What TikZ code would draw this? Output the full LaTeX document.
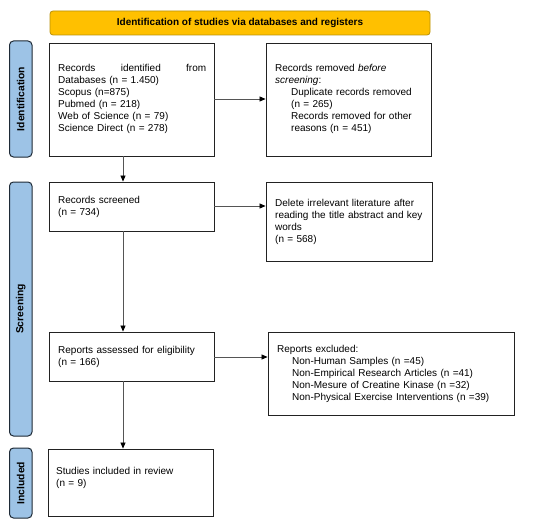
\documentclass[tikz,border=0pt]{standalone}
\usepackage{fontspec}
\setmainfont{Liberation Sans}
\usetikzlibrary{arrows.meta}
\definecolor{titlefill}{HTML}{FFC000}
\definecolor{titledraw}{HTML}{B8900A}
\definecolor{sidefill}{HTML}{9DC3E6}
\definecolor{sidedraw}{HTML}{1E2A36}
\definecolor{boxdraw}{HTML}{222222}
\definecolor{arrowcol}{HTML}{555555}
\begin{document}
\begin{tikzpicture}[x=1pt,y=-1pt,
  every node/.style={font=\fontsize{10}{12}\selectfont},
  titlebox/.style={draw=titledraw,fill=titlefill,rounded corners=3pt,line width=0.8pt,font=\bfseries\fontsize{10}{12}\selectfont},
  sidebox/.style={draw=sidedraw,fill=sidefill,rounded corners=4pt,line width=1pt},
  sidetext/.style={rotate=90,font=\bfseries\fontsize{10.3}{12}\selectfont},
  flowbox/.style={draw=boxdraw,line width=0.9pt},
  boxtext/.style={anchor=west,align=left,inner sep=0pt},
  flowarrow/.style={draw=arrowcol,line width=0.7pt,-{Triangle[length=6pt,width=5pt,color=black]}}
]
\useasboundingbox (0,0) rectangle (546,532);
% title
\node[titlebox,minimum width=380pt,minimum height=24pt,inner sep=0pt] (title) at (240,23) {Identification of studies via databases and registers};
% side labels
\node[sidebox,minimum width=22.5pt,minimum height=116pt,inner sep=0pt] (sideid) at (20.75,99) {};
\node[sidetext] (sideidt) at (sideid.center) {Identification};
\node[sidebox,minimum width=22.5pt,minimum height=254pt,inner sep=0pt] (sidesc) at (20.75,309) {};
\node[sidetext] (sidesct) at (sidesc.center) {Screening};
\node[sidebox,minimum width=22.5pt,minimum height=70pt,inner sep=0pt] (sidein) at (20.75,483) {};
\node[sidetext] (sideint) at (sidein.center) {Included};
% boxes
\node[flowbox,minimum width=165pt,minimum height=113pt,inner sep=0pt] (b1) at (131.5,99.5) {};
\node[boxtext,text width=148pt] (b1t) at (58,99) {Records\hfill identified\hfill from\\Databases (n = 1.450)\\Scopus (n=875)\\Pubmed (n = 218)\\Web of Science (n = 79)\\Science Direct (n = 278)};
\node[flowbox,minimum width=165pt,minimum height=113pt,inner sep=0pt] (b2) at (348.5,99.5) {};
\node[boxtext,text width=152pt] (b2t) at (275,99) {Records removed \textit{before}\\\textit{screening}:\\\hspace*{16pt}Duplicate records removed\\\hspace*{16pt}(n = 265)\\\hspace*{16pt}Records removed for other\\\hspace*{16pt}reasons (n = 451)};
\node[flowbox,minimum width=165pt,minimum height=49pt,inner sep=0pt] (b3) at (131.5,206.5) {};
\node[boxtext,text width=148pt] (b3t) at (58,207) {Records screened\\(n = 734)};
\node[flowbox,minimum width=166pt,minimum height=79pt,inner sep=0pt] (b4) at (349,221.5) {};
\node[boxtext,text width=152pt] (b4t) at (275,222) {Delete irrelevant literature after\\reading the title abstract and key\\words\\(n = 568)};
\node[flowbox,minimum width=246pt,minimum height=83pt,inner sep=0pt] (b6) at (391,373.5) {};
\node[boxtext,text width=232pt] (b6t) at (277,374) {Reports excluded:\\\hspace*{15pt}Non-Human Samples (n =45)\\\hspace*{15pt}Non-Empirical Research Articles (n =41)\\\hspace*{15pt}Non-Mesure of Creatine Kinase (n =32)\\\hspace*{15pt}Non-Physical Exercise Interventions (n =39)};
\node[flowbox,minimum width=165pt,minimum height=49pt,inner sep=0pt] (b5) at (131.5,356.5) {};
\node[boxtext,text width=150pt] (b5t) at (58,357) {Reports assessed for eligibility\\(n = 166)};
\node[flowbox,minimum width=165pt,minimum height=67pt,inner sep=0pt] (b7) at (130.5,482.5) {};
\node[boxtext,text width=150pt] (b7t) at (56,478) {Studies included in review\\(n = 9)};
% arrows
\draw[flowarrow] (b1.east |- 0,99) -- (b2.west |- 0,99);
\draw[flowarrow] (b3.east |- 0,206) -- (b4.west |- 0,206);
\draw[flowarrow] (b5.east |- 0,357) -- (b6.west |- 0,357);
\draw[flowarrow] (b1.south -| 123,0) -- (b3.north -| 123,0);
\draw[flowarrow] (b3.south -| 123,0) -- (b5.north -| 123,0);
\draw[flowarrow] (b5.south -| 123,0) -- (b7.north -| 123,0);
\end{tikzpicture}
\end{document}
